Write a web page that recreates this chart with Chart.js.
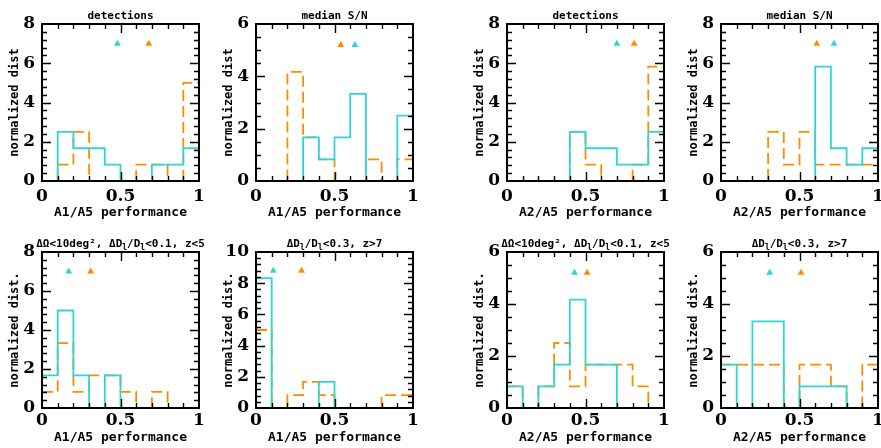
<!DOCTYPE html>
<html>
<head>
<meta charset="utf-8">
<script src="https://cdn.jsdelivr.net/npm/chart.js@4/dist/chart.umd.min.js"></script>
<style>
  html, body { margin: 0; padding: 0; background: #fff; overflow: hidden; }
  body { width: 881px; height: 448px; position: relative; }
  .panel { position: absolute; }
</style>
</head>
<body>
<script>
// ---------- DATA ----------
const binEdges = [0, 0.1, 0.2, 0.3, 0.4, 0.5, 0.6, 0.7, 0.8, 0.9, 1.0];
const xTickValues = [0, 0.5, 1];
const xTickLabels = ['0', '0.5', '1'];

const panelTitles = ['detections', 'median S/N', 'detections', 'median S/N',
  'ΔΩ<10deg², ΔD_l/D_l<0.1, z<5', 'ΔD_l/D_l<0.3, z>7',
  'ΔΩ<10deg², ΔD_l/D_l<0.1, z<5', 'ΔD_l/D_l<0.3, z>7'];
const xAxisTitles = ['A1/A5 performance', 'A1/A5 performance', 'A2/A5 performance', 'A2/A5 performance',
  'A1/A5 performance', 'A1/A5 performance', 'A2/A5 performance', 'A2/A5 performance'];
const yAxisTitles = ['normalized dist', 'normalized dist', 'normalized dist', 'normalized dist',
  'normalized dist.', 'normalized dist.', 'normalized dist.', 'normalized dist.'];
const yMaxes = [8, 6, 8, 8, 8, 10, 6, 6];

// histogram heights per bin (10 bins of width 0.1)
const cyanDetA1    = [0, 2.5, 1.67, 1.67, 0.83, 0, 0, 0.83, 0.83, 1.67];
const orangeDetA1  = [0, 0.83, 2.5, 0, 0, 0, 0.83, 0.83, 0, 5];
const cyanSNA1     = [0, 0, 0, 1.67, 0.83, 1.67, 3.33, 0, 0, 2.5];
const orangeSNA1   = [0, 0, 4.17, 1.67, 0.83, 0, 0, 0.83, 0, 0.83];
const cyanDetA2    = [0, 0, 0, 0, 2.5, 1.67, 1.67, 0.83, 0.83, 2.5];
const orangeDetA2  = [0, 0, 0, 0, 2.5, 0.83, 0, 0, 0.83, 5.83];
const cyanSNA2     = [0, 0, 0, 0, 0, 0, 5.83, 1.67, 0.83, 1.67];
const orangeSNA2   = [0, 0, 0, 2.5, 0.83, 2.5, 0.83, 0.83, 0.83, 0.83];
const cyanLocA1    = [1.67, 5, 1.67, 0, 1.67, 0, 0, 0, 0, 0];
const orangeLocA1  = [0.83, 3.33, 0.83, 1.67, 1.67, 0.83, 0, 0.83, 0, 0];
const cyanHiZA1    = [8.33, 0, 0, 0, 1.67, 0, 0, 0, 0, 0];
const orangeHiZA1  = [5, 0, 0.83, 1.67, 0.83, 0, 0, 0, 0.83, 0.83];
const cyanLocA2    = [0.83, 0, 0.83, 1.67, 4.17, 1.67, 1.67, 0, 0, 0];
const orangeLocA2  = [0.83, 0, 0.83, 2.5, 0.83, 1.67, 1.67, 1.67, 0.83, 0];
const cyanHiZA2    = [1.67, 0, 3.33, 3.33, 0, 0.83, 0.83, 0.83, 0, 0];
const orangeHiZA2  = [1.67, 1.67, 1.67, 1.67, 0, 1.67, 1.67, 0.83, 0, 1.67];

// median markers [x, y]
const cyanMarkers   = [[0.48, 7], [0.63, 5.2], [0.70, 7], [0.72, 7], [0.17, 7], [0.11, 8.8], [0.43, 5.2], [0.31, 5.2]];
const orangeMarkers = [[0.68, 7], [0.54, 5.2], [0.81, 7], [0.61, 7], [0.31, 7], [0.29, 8.8], [0.51, 5.2], [0.51, 5.2]];

const cyanSeries   = [cyanDetA1, cyanSNA1, cyanDetA2, cyanSNA2, cyanLocA1, cyanHiZA1, cyanLocA2, cyanHiZA2];
const orangeSeries = [orangeDetA1, orangeSNA1, orangeDetA2, orangeSNA2, orangeLocA1, orangeHiZA1, orangeLocA2, orangeHiZA2];

// ---------- LAYOUT / STYLE ----------
const CYAN = '#2ed6d6';
const ORANGE = '#ff8c00';
const plotLefts = [42, 256, 507, 721];
const rows = [
  { top: 24, plotH: 157, xh: 43, xTickPad: 5, xTitlePad: 4 },
  { top: 252, plotH: 156, xh: 40, xTickPad: 2, xTitlePad: 3 }
];
const PLOT_W = 157, Y_W = 42, TOP_PAD = 24, RIGHT_PAD = 12;

function histPoints(vals) {
  return binEdges.map((x, i) => ({ x: x, y: vals[Math.min(i, vals.length - 1)] }));
}
function isMult(v, m) { return Math.abs(v / m - Math.round(v / m)) < 1e-6; }

const frameTicks = {
  id: 'frameTicks',
  afterDatasetsDraw(chart, args, opts) {
    const { ctx, chartArea: a } = chart;
    const xs = chart.scales.x, ys = chart.scales.y;
    ctx.save();
    ctx.strokeStyle = '#000';
    ctx.lineWidth = 1.4;
    ctx.beginPath();
    xs.ticks.forEach(t => {
      if (t.value <= 0 || t.value >= 1) return;
      const p = Math.round(xs.getPixelForValue(t.value)) + 0.5;
      const len = isMult(t.value, 0.5) ? 9 : 5;
      ctx.moveTo(p, a.bottom); ctx.lineTo(p, a.bottom - len);
      ctx.moveTo(p, a.top); ctx.lineTo(p, a.top + len);
    });
    ys.ticks.forEach(t => {
      if (t.value <= 0 || t.value >= ys.max) return;
      const p = Math.round(ys.getPixelForValue(t.value)) + 0.5;
      const len = isMult(t.value, 2) ? 9 : 5;
      ctx.moveTo(a.left, p); ctx.lineTo(a.left + len, p);
      ctx.moveTo(a.right, p); ctx.lineTo(a.right - len, p);
    });
    ctx.stroke();
    ctx.lineWidth = 2;
    ctx.strokeRect(a.left, a.top, a.right - a.left, a.bottom - a.top);

    // title with subscripts written as _x
    const text = opts.text || '';
    const parts = [];
    const re = /_(\w)/g;
    let last = 0, m;
    while ((m = re.exec(text)) !== null) {
      if (m.index > last) parts.push({ t: text.slice(last, m.index), sub: false });
      parts.push({ t: m[1], sub: true });
      last = m.index + m[0].length;
    }
    if (last < text.length) parts.push({ t: text.slice(last), sub: false });
    const mainFont = 'bold 11px "DejaVu Sans Mono"';
    const subFont = 'bold 8px "DejaVu Sans Mono"';
    let total = 0;
    parts.forEach(p => { ctx.font = p.sub ? subFont : mainFont; p.w = ctx.measureText(p.t).width; total += p.w; });
    let x = (a.left + a.right) / 2 - total / 2;
    const y = a.top - 5;
    ctx.fillStyle = '#000';
    ctx.textBaseline = 'alphabetic';
    ctx.textAlign = 'left';
    parts.forEach(p => {
      ctx.font = p.sub ? subFont : mainFont;
      ctx.fillText(p.t, x, p.sub ? y + 3 : y);
      x += p.w;
    });
    ctx.restore();
  }
};

for (let i = 0; i < 8; i++) {
  const row = rows[Math.floor(i / 4)];
  const L = plotLefts[i % 4];
  const cw = Y_W + PLOT_W + RIGHT_PAD;
  const ch = TOP_PAD + row.plotH + row.xh;
  const div = document.createElement('div');
  div.className = 'panel';
  div.style.left = (L - Y_W) + 'px';
  div.style.top = (row.top - TOP_PAD) + 'px';
  div.style.width = cw + 'px';
  div.style.height = ch + 'px';
  const cv = document.createElement('canvas');
  cv.width = cw; cv.height = ch;
  cv.style.width = cw + 'px'; cv.style.height = ch + 'px';
  div.appendChild(cv);
  document.body.appendChild(div);

  const ymax = yMaxes[i];
  const ystep = ymax === 6 ? 0.5 : 0.4;

  new Chart(cv.getContext('2d'), {
    type: 'line',
    data: {
      datasets: [
        { data: [{ x: cyanMarkers[i][0], y: cyanMarkers[i][1] }], showLine: false,
          pointStyle: 'triangle', pointRadius: 4, backgroundColor: CYAN, borderColor: CYAN, borderWidth: 0 },
        { data: [{ x: orangeMarkers[i][0], y: orangeMarkers[i][1] }], showLine: false,
          pointStyle: 'triangle', pointRadius: 4, backgroundColor: ORANGE, borderColor: ORANGE, borderWidth: 0 },
        { data: histPoints(cyanSeries[i]), stepped: 'before', borderColor: CYAN, borderWidth: 1.8,
          pointRadius: 0, fill: false, tension: 0 },
        { data: histPoints(orangeSeries[i]), stepped: 'before', borderColor: ORANGE, borderWidth: 1.8,
          borderDash: [11, 5], pointRadius: 0, fill: false, tension: 0 }
      ]
    },
    options: {
      responsive: false,
      animation: false,
      devicePixelRatio: 1,
      layout: { padding: { top: TOP_PAD, right: RIGHT_PAD, bottom: 0, left: 0 } },
      plugins: {
        legend: { display: false },
        tooltip: { enabled: false },
        frameTicks: { text: panelTitles[i] }
      },
      scales: {
        x: {
          type: 'linear', min: 0, max: 1,
          grid: { display: false, drawTicks: false },
          border: { display: false },
          ticks: {
            stepSize: 0.1, autoSkip: false, maxRotation: 0, padding: row.xTickPad,
            color: '#000', font: { family: 'DejaVu Serif', weight: 'bold', size: 17 },
            callback: (v) => {
              const k = xTickValues.findIndex(t => Math.abs(t - v) < 1e-6);
              return k >= 0 ? xTickLabels[k] : '';
            }
          },
          title: { display: true, text: xAxisTitles[i], color: '#000',
            font: { family: 'DejaVu Sans Mono', weight: 'bold', size: 13 }, padding: { top: 0, bottom: row.xTitlePad } },
          afterFit: (s) => { s.height = row.xh; }
        },
        y: {
          type: 'linear', min: 0, max: ymax,
          grid: { display: false, drawTicks: false },
          border: { display: false },
          ticks: {
            stepSize: ystep, autoSkip: false, padding: 7,
            color: '#000', font: { family: 'DejaVu Serif', weight: 'bold', size: 17 },
            callback: (v) => isMult(v, 2) ? String(Math.round(v)) : ''
          },
          title: { display: true, text: yAxisTitles[i], color: '#000',
            font: { family: 'DejaVu Sans Mono', weight: 'bold', size: 12 }, padding: { top: 8, bottom: 0 } },
          afterFit: (s) => { s.width = Y_W; }
        }
      }
    },
    plugins: [frameTicks]
  });
}
</script>
</body>
</html>
